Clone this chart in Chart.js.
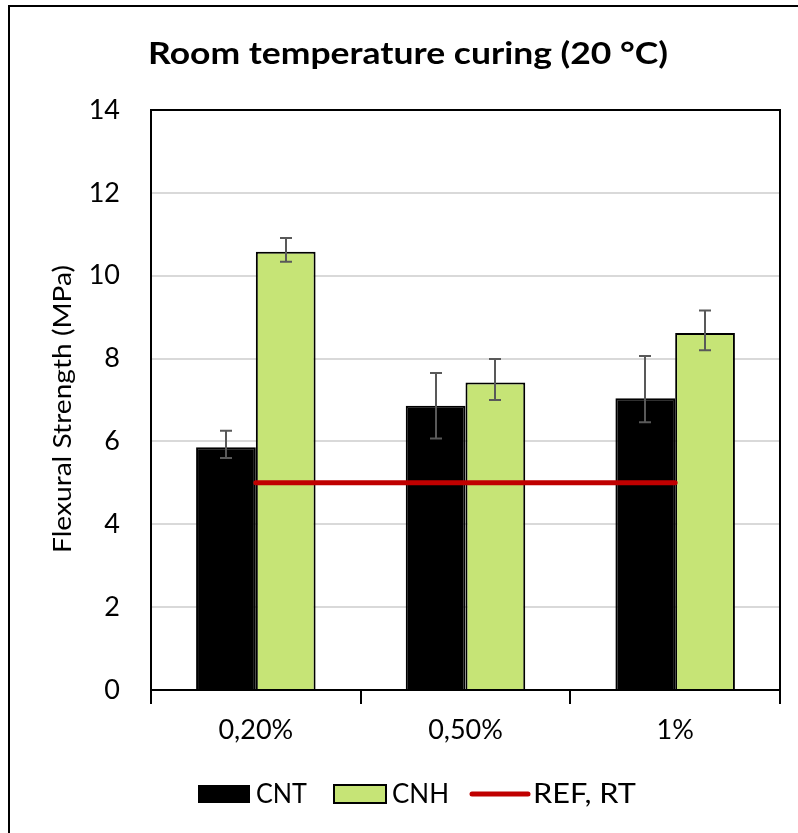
<!DOCTYPE html>
<html>
<head>
<meta charset="utf-8">
<script src="https://cdn.jsdelivr.net/npm/chart.js@4.4.0/dist/chart.umd.min.js"></script>
<style>
  html, body { margin: 0; padding: 0; background: #fff; }
  #wrap { width: 798px; height: 833px; position: relative; }
</style>
</head>
<body>
<div id="wrap"><canvas id="c" width="798" height="833"></canvas></div>
<script>
const titleText = 'Room temperature curing (20 °C)';
const yTitle = 'Flexural Strength (MPa)';
const categories = ['0,20%', '0,50%', '1%'];
const cntValues = [5.86, 6.86, 7.04];
const cntUpper  = [6.26, 7.65, 8.06];
const cntLower  = [5.60, 6.07, 6.46];
const cnhValues = [10.58, 7.42, 8.62];
const cnhUpper  = [10.91, 7.99, 9.16];
const cnhLower  = [10.34, 7.00, 8.20];
const refValues = [5, 5, 5];
const seriesNames = ['CNT', 'CNH', 'REF, RT'];
const yTicks = [0, 2, 4, 6, 8, 10, 12, 14];

const FONT = 'Lato, "Open Sans", sans-serif';
const GREEN = '#C6E476';
const RED = '#C00000';

function fitText(ctx, text, x, y, targetWidth) {
  const w = ctx.measureText(text).width;
  const k = targetWidth / w;
  ctx.save();
  ctx.translate(x, y);
  ctx.scale(k, 1);
  ctx.fillText(text, 0, 0);
  ctx.restore();
}

const errorBars = {
  id: 'errorBars',
  afterDatasetsDraw(chart) {
    const ctx = chart.ctx, y = chart.scales.y;
    const sets = [[0, cntUpper, cntLower], [1, cnhUpper, cnhLower]];
    ctx.save();
    ctx.strokeStyle = '#595959';
    ctx.lineWidth = 2;
    sets.forEach(([di, up, lo]) => {
      chart.getDatasetMeta(di).data.forEach((bar, i) => {
        const x = Math.round(bar.x);
        const yu = y.getPixelForValue(up[i]);
        const yl = y.getPixelForValue(lo[i]);
        ctx.beginPath();
        ctx.moveTo(x, yu); ctx.lineTo(x, yl);
        ctx.moveTo(x - 6, yu); ctx.lineTo(x + 6, yu);
        ctx.moveTo(x - 6, yl); ctx.lineTo(x + 6, yl);
        ctx.stroke();
      });
    });
    ctx.restore();
  }
};

const frame = {
  id: 'frame',
  beforeDraw(chart) {
    const ctx = chart.ctx;
    ctx.save();
    ctx.fillStyle = '#fff';
    ctx.fillRect(0, 0, chart.width, chart.height);
    ctx.strokeStyle = '#000';
    ctx.lineWidth = 2;
    ctx.strokeRect(9, 6, 900, 900);
    ctx.restore();
  },
  afterDraw(chart) {
    const ctx = chart.ctx, a = chart.chartArea;
    ctx.save();
    // plot area border
    ctx.strokeStyle = '#000';
    ctx.lineWidth = 2;
    ctx.strokeRect(a.left, a.top, a.right - a.left, a.bottom - a.top);
    // title
    ctx.fillStyle = '#000';
    ctx.font = 'bold 30px ' + FONT;
    ctx.textAlign = 'left';
    ctx.textBaseline = 'alphabetic';
    fitText(ctx, titleText, 148, 64, 520);
    // y axis title
    ctx.font = '25px ' + FONT;
    ctx.save();
    ctx.translate(71, 553);
    ctx.rotate(-Math.PI / 2);
    fitText(ctx, yTitle, 0, 0, 288);
    ctx.restore();
    // legend
    ctx.font = '26px ' + FONT;
    const ly = 794, base = 803;
    let x = 198;
    ctx.fillStyle = '#000';
    ctx.fillRect(x, ly - 9, 52, 18);
    x += 58;
    fitText(ctx, seriesNames[0], x, base, 51);
    x += 51 + 27;
    ctx.fillStyle = GREEN;
    ctx.fillRect(x, ly - 9, 52, 18);
    ctx.strokeStyle = '#000';
    ctx.lineWidth = 2;
    ctx.strokeRect(x, ly - 9, 52, 18);
    x += 58;
    ctx.fillStyle = '#000';
    fitText(ctx, seriesNames[1], x, base, 57);
    x += 57 + 23;
    ctx.strokeStyle = RED;
    ctx.lineWidth = 5;
    ctx.lineCap = 'round';
    ctx.beginPath();
    ctx.moveTo(x, ly); ctx.lineTo(x + 56, ly);
    ctx.stroke();
    x += 61;
    fitText(ctx, seriesNames[2], x, base, 103);
    ctx.restore();
  }
};

new Chart(document.getElementById('c'), {
  data: {
    labels: categories,
    datasets: [
      { type: 'bar', label: seriesNames[0], data: cntValues, backgroundColor: '#000', borderColor: '#000', borderWidth: 2, order: 1,
        categoryPercentage: 0.57, barPercentage: 1.0 },
      { type: 'bar', label: seriesNames[1], data: cnhValues, backgroundColor: GREEN, borderColor: '#000', borderWidth: 2, order: 1,
        categoryPercentage: 0.57, barPercentage: 1.0 },
      { type: 'line', label: seriesNames[2], data: refValues, borderColor: RED, borderWidth: 5, pointRadius: 0,
        borderCapStyle: 'round', order: 0, fill: false }
    ]
  },
  options: {
    responsive: false,
    animation: false,
    devicePixelRatio: 1,
    layout: { padding: { left: 0, right: 18, top: 110, bottom: 83 } },
    plugins: { legend: { display: false }, title: { display: false }, tooltip: { enabled: false } },
    scales: {
      x: {
        offset: true,
        grid: { display: true, offset: true, drawOnChartArea: false, drawTicks: true, tickLength: 14, color: '#000', lineWidth: 2 },
        border: { display: true, color: '#000', width: 2 },
        ticks: { font: { family: FONT, size: 27 }, color: '#000', padding: 10, maxRotation: 0 },
        afterFit(s) { s.height = 60; }
      },
      y: {
        min: 0, max: 14,
        afterBuildTicks(s) { s.ticks = yTicks.map(v => ({ value: v })); },
        grid: { color: '#D9D9D9', lineWidth: 2, drawTicks: false },
        border: { display: true, color: '#000', width: 2 },
        ticks: { font: { family: FONT, size: 27 }, color: '#000', padding: 31 },
        title: { display: false },
        afterFit(s) { s.width = 151; }
      }
    }
  },
  plugins: [frame, errorBars]
});
</script>
</body>
</html>
